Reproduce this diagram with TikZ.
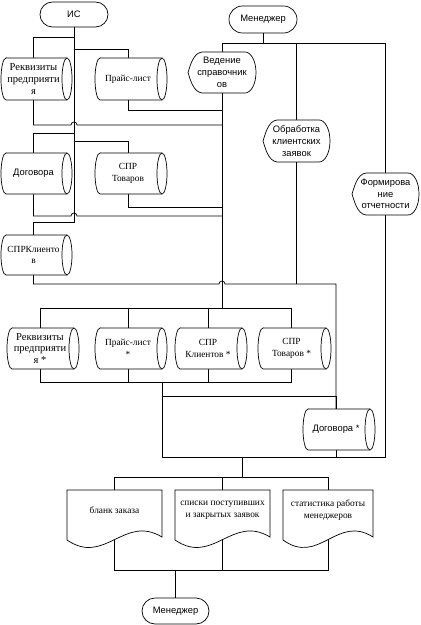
\documentclass[tikz,border=0pt]{standalone}
\usepackage{fontspec}
\setmainfont{Liberation Serif}
\setsansfont{Liberation Sans}
\usetikzlibrary{calc}
\pgfdeclarelayer{bg}
\pgfsetlayers{bg,main}

\tikzset{
  shapeline/.style={draw=black, line width=0.6pt, fill=white},
  conn/.style={draw=black, line width=0.6pt},
  serifS/.style={font=\fontsize{8}{10}\selectfont},
  serifL/.style={font=\fontsize{9}{10}\selectfont},
  sansS/.style={font=\sffamily\fontsize{8}{10}\selectfont},
  boxtext/.style={align=center, inner sep=0pt, draw=none},
  term/.style={draw=black, line width=0.6pt, fill=white, inner sep=0pt, sansS},
}

% cylinder: name, x0, x1, y0, y1, font style, text
\newcommand\cylbox[7]{%
  \pgfmathsetmacro\cylry{(#5-#4)*0.015}%
  \pgfmathsetmacro\cylw{(#3-6-#2)*0.03}%
  \pgfmathsetmacro\cylh{(#5-#4)*0.03}%
  \draw[shapeline] (#2+5,#4) -- (#3-5,#4)
     arc[start angle=90,end angle=-90,x radius=0.15cm,y radius=\cylry cm]
     -- (#2+5,#5)
     arc[start angle=270,end angle=90,x radius=0.15cm,y radius=\cylry cm] -- cycle;
  \draw[shapeline] (#3-5,#4) arc[start angle=90,end angle=270,x radius=0.15cm,y radius=\cylry cm];
  \node[boxtext,#6, minimum width=\cylw cm, minimum height=\cylh cm] (#1) at ({(#2+#3-6)/2},{(#4+#5)/2}) {#7};
}

% display shape: name, x0, x1, y0, y1, text
\newcommand\dispbox[6]{%
  \pgfmathsetmacro\dry{(#5-#4)*0.015}%
  \pgfmathsetmacro\dw{(#3-#2)*0.03}%
  \pgfmathsetmacro\dh{(#5-#4)*0.03}%
  \pgfmathsetmacro\dym{(#4+#5)/2}%
  \draw[shapeline] (#2+14,#4) -- (#3-11,#4)
     arc[start angle=90,end angle=-90,x radius=0.33cm,y radius=\dry cm]
     -- (#2+14,#5)
     .. controls (#2+5,#5-1) and (#2+2,\dym+6) .. (#2,\dym)
     .. controls (#2+2,\dym-6) and (#2+5,#4+1) .. cycle;
  \node[boxtext,sansS, minimum width=\dw cm, minimum height=\dh cm] (#1) at ({(#2+#3)/2},\dym) {#6};
}

% document: name, x0, x1, y0, text
\newcommand\docbox[5]{%
  \pgfmathsetmacro\dcw{(#3-#2)*0.03}%
  \draw[shapeline] (#2,#4) -- (#3,#4) -- (#3,#4+47)
     .. controls ({#2+0.6*(#3-#2)},{#4+24}) and ({#2+0.4*(#3-#2)},{#4+76}) .. (#2,#4+50) -- cycle;
  \node[boxtext,serifS, minimum width=\dcw cm, minimum height=1.2cm] (#1) at ({(#2+#3)/2},{#4+20}) {#5};
}

\begin{document}
\begin{tikzpicture}[x=0.03cm,y=-0.03cm]
\begin{pgfonlayer}{bg}
\fill[white] (0,0) rectangle (420,625);
\end{pgfonlayer}
\useasboundingbox (0,0) rectangle (420,625);

% terminators
\node[term, minimum width=2.04cm, minimum height=0.75cm, rounded corners=0.375cm] (is) at (74,14.5) {ИС};
\node[term, minimum width=2.04cm, minimum height=0.81cm, rounded corners=0.405cm] (men1) at (263,19.5) {Менеджер};
\node[term, minimum width=2.01cm, minimum height=0.78cm, rounded corners=0.39cm] (men2) at (175.5,611) {Менеджер};

% storages
\cylbox{rek1}{1}{72}{58}{100}{serifL}{Реквизиты\\предприяти\\я}
\cylbox{pr1}{95}{167}{58}{100}{serifS}{Прайс-лист}
\cylbox{dog1}{1}{72}{153}{194}{sansS}{Договора}
\cylbox{spt1}{95}{167}{153}{194}{serifS}{СПР\\Товаров}
\cylbox{spk1}{1}{72}{235}{275}{serifS}{СПРКлиенто\\в}
\cylbox{rek2}{7}{79}{328}{369}{serifL}{Реквизиты\\предприяти\\я *}
\cylbox{pr2}{95}{167}{328}{369}{serifS}{Прайс-лист\\*}
\cylbox{spk2}{175}{247}{328}{369}{serifS}{СПР\\Клиентов *}
\cylbox{spt2}{258}{331}{328}{369}{serifS}{СПР\\Товаров *}
\cylbox{dog2}{303}{375}{409}{450}{sansS}{Договора *}

% processes
\dispbox{ved}{188}{256}{52}{93}{Ведение\\справочник\\ов}
\dispbox{obr}{263}{330}{120}{162}{Обработка\\клиентских\\заявок}
\dispbox{form}{352}{419}{173}{215}{Формирова\\ние\\отчетности}

% documents
\docbox{doc1}{67}{162}{490}{бланк заказа}
\docbox{doc2}{175}{270}{490}{списки поступивших\\и закрытых заявок}
\docbox{doc3}{283}{373}{490}{статистика работы\\менеджеров}

% junction coordinates
\coordinate (isend) at (74,222);
\coordinate (vedend) at (222,308);
\coordinate (topbus) at (222,43);
\coordinate (midA) at (162,382);
\coordinate (midB) at (162,457);
\coordinate (obrj) at (296.5,284);
\coordinate (outj) at (242,457);
\coordinate (docbus) at (242,477);
\coordinate (endbus) at (175.5,570);

\begin{pgfonlayer}{bg}
% IS bus
\draw[conn] (is.south) -- (isend) -| (spk1.north);
\draw[conn] (74,37) -| (rek1.north);
\draw[conn] (74,49) -| (pr1.north);
\draw[conn] (74,133) -| (dog1.north);
\draw[conn] (74,141) -| (spt1.north);
% returns to Ведение line
\draw[conn] (pr1.south) |- (222,110);
\draw[conn] (rek1.south) |- (71,125) arc[start angle=180,end angle=0,radius=0.09cm] -- (222,125);
\draw[conn] (spt1.south) |- (222,207);
\draw[conn] (dog1.south) |- (71,216) arc[start angle=180,end angle=0,radius=0.09cm] -- (222,216);
% Менеджер bus
\draw[conn] (men1.south) -- (263,43);
\draw[conn] (ved.north) -- (topbus) -| (form.north);
\draw[conn] (obr.north) -- (296.5,43);
% Ведение to storage row
\draw[conn] (ved.south) -- (vedend);
\draw[conn] (rek2.north) -- (40,308) -| (spt2.north);
\draw[conn] (pr2.north) -- (128,308);
\draw[conn] (spk2.north) -- (208,308);
\draw[conn] (rek2.south) -- (40,382) -| (spt2.south);
\draw[conn] (pr2.south) -- (128,382);
\draw[conn] (spk2.south) -- (208,382);
\draw[conn] (midA) -- (midB) -| (form.south);
\draw[conn] (162,396) -| (dog2.north);
% СПРКлиентов to Договора *
\draw[conn] (spk1.south) |- (219,284) arc[start angle=180,end angle=0,radius=0.09cm] -- (336,284) -- (dog2.north);
\draw[conn] (obr.south) -- (obrj);
\draw[conn] (dog2.south) -- (336,457);
% outputs
\draw[conn] (outj) -- (docbus);
\draw[conn] (doc1.north) -- (114.5,477) -| (doc3.north);
\draw[conn] (doc2.north) -- (222.5,477);
\draw[conn] (doc1.south) -- (114.5,570) -| (doc3.south);
\draw[conn] (doc2.south) -- (222.5,570);
\draw[conn] (men2.north) -- (endbus);
\end{pgfonlayer}
\end{tikzpicture}
\end{document}
